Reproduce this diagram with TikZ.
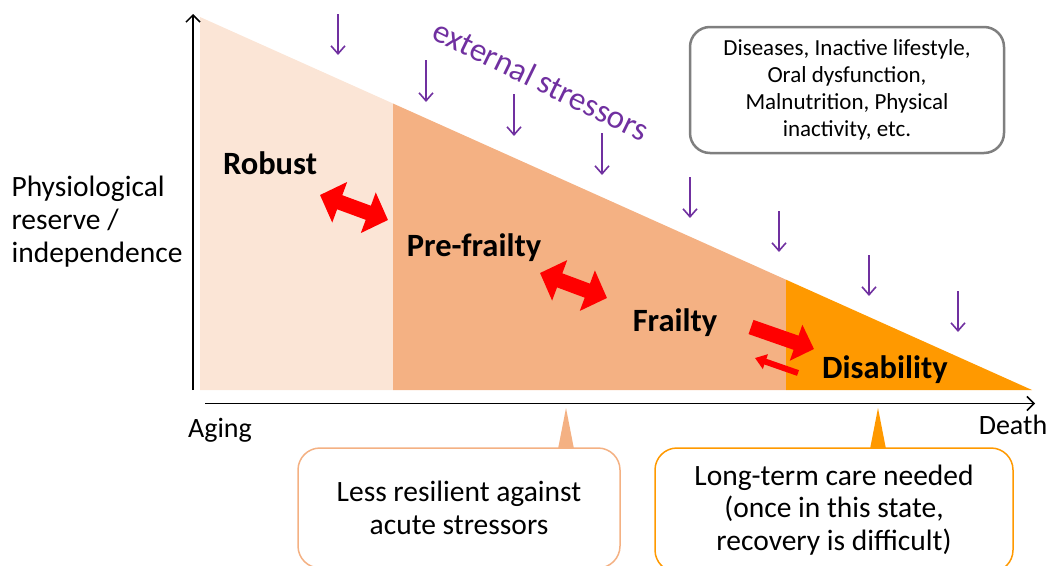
\documentclass[tikz,border=0pt]{standalone}
\usepackage{fontspec}
\setmainfont{Carlito}
\usetikzlibrary{arrows.meta,calc}
\definecolor{robustc}{HTML}{FBE5D6}
\definecolor{frailc}{HTML}{F4B183}
\definecolor{disablec}{HTML}{FF9900}
\definecolor{stressc}{HTML}{7030A0}
\definecolor{boxgray}{HTML}{7F7F7F}
\begin{document}
\begin{tikzpicture}[x=1pt,y=-1pt,
	stage/.style={font=\fontsize{32.5}{36}\selectfont\bfseries},
	axislabel/.style={font=\fontsize{29.5}{33}\selectfont},
	axisline/.style={line width=1.5pt,-{Straight Barb[length=7pt,width=14pt]}},
	stress/.style={stressc,line width=1.6pt,-{Straight Barb[length=8pt,width=14pt]}},
	twoway/.style={red,line width=15pt,{Triangle[width=42pt,length=21pt]}-{Triangle[width=42pt,length=21pt]}},
	oneway/.style={red,line width=15pt,-{Triangle[width=37pt,length=19pt]}},
	backway/.style={red,line width=6pt,-{Triangle[width=15pt,length=11pt]}},
	infobox/.style={draw=boxgray,line width=2.5pt,rounded corners=20pt,fill=white,align=center,
		minimum width=314pt,minimum height=126pt,font=\fontsize{23}{27}\selectfont},
	callbox/.style={line width=1.5pt,rounded corners=22pt,fill=white,align=center,
		font=\fontsize{29.5}{32.5}\selectfont}]
	\useasboundingbox (0,0) rectangle (1046,565);
	\coordinate (top) at (200,17);
	\coordinate (end) at (1032,390);
	\coordinate (cut1) at (393,103.5);
	\coordinate (cut2) at (786,279.7);
	\fill [robustc] (200,390) -- (top) -- (cut1) -- (393,390) -- cycle;
	\fill [frailc] (393,390) -- (cut1) -- (cut2) -- (786,390) -- cycle;
	\fill [disablec] (786,390) -- (cut2) -- (end) -- cycle;
	\coordinate (yfoot) at (193,390);
	\coordinate (yhead) at (193,14);
	\draw [axisline] (yfoot) -- (yhead);
	\coordinate (xfoot) at (205,403.5);
	\coordinate (xhead) at (1035,403.5);
	\draw [axisline] (xfoot) -- (xhead);
	\node [axislabel,font=\fontsize{28}{33}\selectfont] (aging) at (220,430) {Aging};
	\node [axislabel,font=\fontsize{28}{33}\selectfont] (death) at (1013,425) {Death};
	\node [axislabel,align=left,anchor=west] (reserve) at (8,222) {Physiological\\reserve /\\independence};
	\node [stage] (robust) at (270,163) {Robust};
	\node [stage] (prefrail) at (474,248) {Pre-frailty};
	\node [stage] (frail) at (675,323) {Frailty};
	\node [stage] (disable) at (885,370) {Disability};
	\node [stressc,rotate=-26,font=\fontsize{33}{36}\selectfont] (stressors) at (541,80) {external stressors};
	\coordinate (s1a) at (338,14); \coordinate (s1b) at (338,55);
	\coordinate (s2a) at (426,60); \coordinate (s2b) at (426,102);
	\coordinate (s3a) at (514,94); \coordinate (s3b) at (514,136);
	\coordinate (s4a) at (602,133); \coordinate (s4b) at (602,175);
	\coordinate (s5a) at (690,177); \coordinate (s5b) at (690,218);
	\coordinate (s6a) at (779,211); \coordinate (s6b) at (779,252);
	\coordinate (s7a) at (869,255); \coordinate (s7b) at (869,296);
	\coordinate (s8a) at (958,291); \coordinate (s8b) at (958,332);
	\draw [stress] (s1a) -- (s1b);
	\draw [stress] (s2a) -- (s2b);
	\draw [stress] (s3a) -- (s3b);
	\draw [stress] (s4a) -- (s4b);
	\draw [stress] (s5a) -- (s5b);
	\draw [stress] (s6a) -- (s6b);
	\draw [stress] (s7a) -- (s7b);
	\draw [stress] (s8a) -- (s8b);
	\coordinate (r1a) at (320,195); \coordinate (r1b) at (388,220);
	\coordinate (r2a) at (540,273); \coordinate (r2b) at (607,298);
	\coordinate (r3a) at (751,327); \coordinate (r3b) at (814,349);
	\coordinate (r4a) at (798,373); \coordinate (r4b) at (755,358);
	\draw [twoway] (r1a) -- (r1b);
	\draw [twoway] (r2a) -- (r2b);
	\draw [oneway] (r3a) -- (r3b);
	\draw [backway] (r4a) -- (r4b);
	\node [infobox] (causes) at (847,90) {Diseases, Inactive lifestyle,\\Oral dysfunction,\\Malnutrition, Physical\\inactivity, etc.};
	\coordinate (p1) at (566,408);
	\coordinate (p2) at (878,408);
	\fill [frailc] (558,449) -- (p1) -- (574,449) -- cycle;
	\fill [disablec] (870,449) -- (p2) -- (886,449) -- cycle;
	\node [callbox,draw=frailc,minimum width=322pt,minimum height=120pt] (resilient) at (459,508) {Less resilient against\\acute stressors};
	\node [callbox,draw=disablec,minimum width=358pt,minimum height=124pt] (care) at (834,510) {Long-term care needed\\(once in this state,\\recovery is difficult)};
\end{tikzpicture}
\end{document}
